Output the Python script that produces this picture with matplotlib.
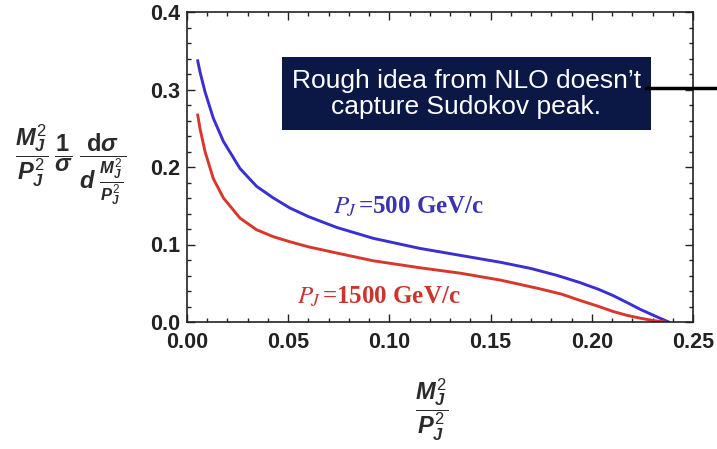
import matplotlib
matplotlib.use("Agg")
import matplotlib.pyplot as plt
from matplotlib.lines import Line2D
from matplotlib.ticker import MultipleLocator, FormatStrFormatter

# Data
x_500 = [0.0053, 0.0064, 0.0089, 0.013, 0.018, 0.0262, 0.0344, 0.0427, 0.0509,
         0.060, 0.074, 0.092, 0.115, 0.135, 0.155, 0.170, 0.183, 0.194,
         0.2035, 0.2106, 0.2175, 0.2238, 0.231, 0.238]
y_500 = [0.337, 0.323, 0.297, 0.263, 0.233, 0.198, 0.175, 0.160, 0.147,
         0.136, 0.122, 0.108, 0.095, 0.086, 0.077, 0.069, 0.060, 0.051,
         0.042, 0.034, 0.025, 0.0165, 0.008, 0.0]
x_1500 = [0.0053, 0.0064, 0.0089, 0.013, 0.018, 0.0262, 0.0344, 0.0427, 0.0509,
          0.060, 0.074, 0.092, 0.115, 0.135, 0.155, 0.174, 0.185, 0.194,
          0.2035, 0.2106, 0.2175, 0.2238, 0.230, 0.236]
y_1500 = [0.267, 0.250, 0.220, 0.185, 0.160, 0.134, 0.119, 0.110, 0.1035,
          0.097, 0.089, 0.079, 0.070, 0.063, 0.054, 0.043, 0.036, 0.028,
          0.020, 0.0135, 0.0085, 0.005, 0.002, 0.0]

x_ticks = [0.00, 0.05, 0.10, 0.15, 0.20, 0.25]
y_ticks = [0.0, 0.1, 0.2, 0.3, 0.4]

label_500 = r"$P_{\!J}\,$=500 GeV/c"
label_1500 = r"$P_{\!J}\,$=1500 GeV/c"
box_text = "Rough idea from NLO doesn\u2019t\ncapture Sudokov peak."

plt.rcParams['font.family'] = ['Liberation Sans', 'DejaVu Sans']
plt.rcParams['mathtext.fontset'] = 'custom'
plt.rcParams['mathtext.rm'] = 'Liberation Sans'
plt.rcParams['mathtext.it'] = 'Liberation Sans:italic:bold'
plt.rcParams['mathtext.bf'] = 'Liberation Sans:bold'

fig = plt.figure(figsize=(7.17, 4.49), dpi=100)
ax = fig.add_axes([187/717, 1-322/449, (693-187)/717, (322-12)/449])

ax.plot(x_500, y_500, color="#3a2fd0", lw=2.1, solid_joinstyle='round')
ax.plot(x_1500, y_1500, color="#d8382c", lw=2.1, solid_joinstyle='round')

ax.set_xlim(0, 0.25)
ax.set_ylim(0, 0.4)
ax.set_xticks(x_ticks)
ax.set_yticks(y_ticks)
ax.xaxis.set_major_formatter(FormatStrFormatter('%.2f'))
ax.yaxis.set_major_formatter(FormatStrFormatter('%.1f'))
ax.xaxis.set_minor_locator(MultipleLocator(0.01))
ax.yaxis.set_minor_locator(MultipleLocator(0.02))
ax.tick_params(which='both', direction='in', top=True, right=True, width=1.0, color='#222222')
ax.tick_params(which='major', length=6)
ax.tick_params(which='minor', length=3)
ax.tick_params(axis='both', labelsize=15.5, labelcolor='#222222')
ax.tick_params(axis='x', pad=7)
ax.tick_params(axis='y', pad=5)
for lab in ax.get_xticklabels() + ax.get_yticklabels():
    lab.set_fontweight('bold')
for s in ax.spines.values():
    s.set_linewidth(1.2)
    s.set_color('#222222')

# Curve labels (serif bold)
ax.text(0.0721, 0.148, label_500, color="#3b34b0", fontsize=18,
        family=['Liberation Serif'], fontweight='bold', va='center', ha='left',
        math_fontfamily='stix')
ax.text(0.0543, 0.032, label_1500, color="#c8362c", fontsize=18,
        family=['Liberation Serif'], fontweight='bold', va='center', ha='left',
        math_fontfamily='stix')

# Text box
fig.patches.append(plt.Rectangle((282/717, 1-130/449), (651-282)/717, (130-57)/449,
                                 transform=fig.transFigure, facecolor="#0b1846",
                                 edgecolor='none', zorder=5))
fig.text((282+651)/2/717, 1-94/449, box_text, color='white', fontsize=19,
         ha='center', va='center', linespacing=1.12, zorder=6)
fig.add_artist(Line2D([646/717, 1.0], [1-88/449, 1-88/449], color='black', lw=2.5,
                      transform=fig.transFigure, zorder=7))

# Axis labels as math fractions
fig.text(71/717, 1-165/449,
         r"$\dfrac{M_J^2}{P_J^2}\;\dfrac{\mathbf{1}}{\sigma}\;\dfrac{\mathbf{d}\sigma}{d\;\frac{M_J^2}{P_J^2}}$",
         fontsize=17, ha='center', va='center', color='#2a2a2a')
fig.text(432/717, 1-410/449, r"$\dfrac{M_J^2}{P_J^2}$", fontsize=17,
         ha='center', va='center', color='#2a2a2a')

fig.savefig("out.png", dpi=100, facecolor='white')
